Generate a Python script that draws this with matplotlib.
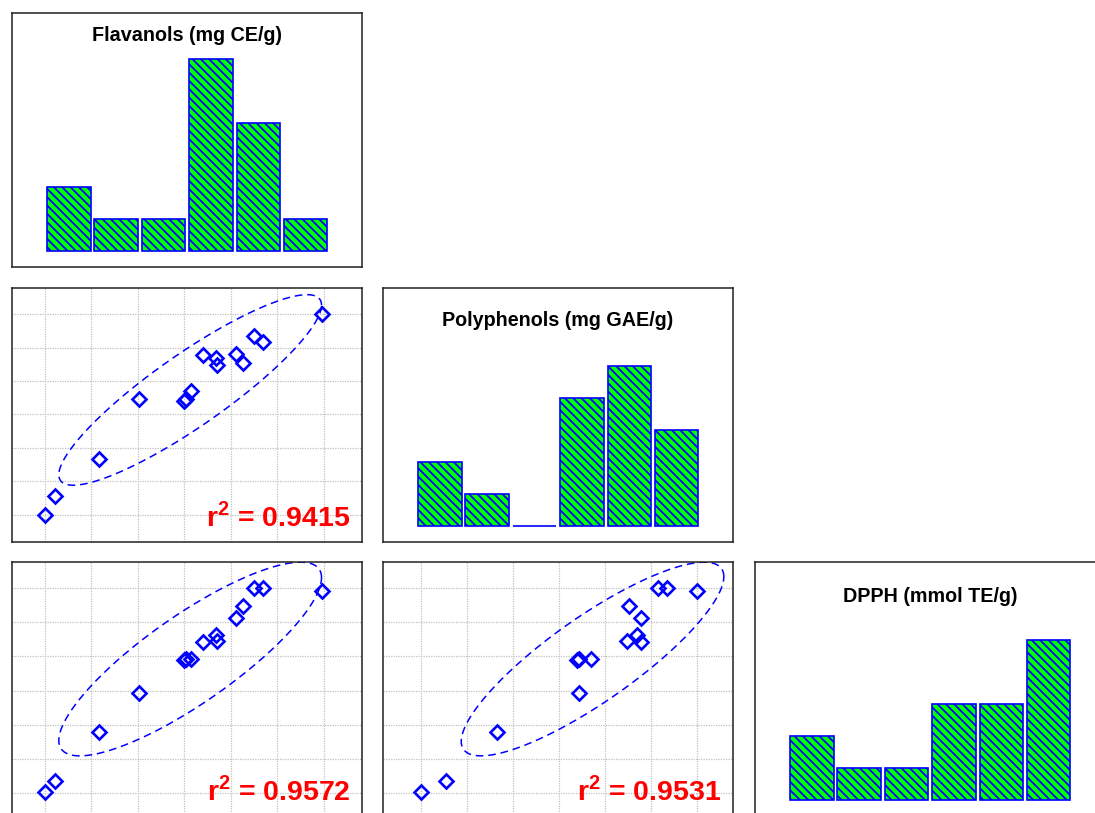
import numpy as np
import matplotlib
matplotlib.use('Agg')
import matplotlib.pyplot as plt

# ── data (arbitrary chart units) ──
titles = ['Flavanols (mg CE/g)', 'Polyphenols (mg GAE/g)', 'DPPH (mmol TE/g)']
flavanols = [0.00, 0.22, 1.16, 2.03, 3.00, 3.03, 3.15, 3.39, 3.68, 3.70,
             4.11, 4.25, 4.49, 4.69, 5.95]
polyphenols = [0.00, 0.56, 1.66, 3.45, 3.40, 3.45, 3.70, 4.78, 4.70, 4.48,
               4.80, 4.53, 5.36, 5.16, 6.01]
dpph = [0.02, 0.34, 1.79, 2.93, 3.90, 3.92, 3.93, 4.43, 4.63, 4.44,
        5.12, 5.49, 6.00, 6.00, 5.92]
r2_labels = {(1, 0): '0.9415', (2, 0): '0.9572', (2, 1): '0.9531'}
# tilt of the dashed ellipses as drawn (correlation term)
ellipse_rho = {(1, 0): 0.89, (2, 0): 0.84, (2, 1): 0.85}

variables = [np.array(flavanols), np.array(polyphenols), np.array(dpph)]
limits = [(-0.71, 6.82), (-0.82, 6.79), (-0.68, 6.77)]

# ── style ──
BLUE = '#0000FF'
GREEN = '#00FF00'
RED = '#FF0000'
plt.rcParams['font.family'] = ['Liberation Sans', 'DejaVu Sans']
plt.rcParams['mathtext.fontset'] = 'custom'
plt.rcParams['mathtext.rm'] = 'Liberation Sans:bold'
plt.rcParams['mathtext.bf'] = 'Liberation Sans:bold'
plt.rcParams['hatch.color'] = BLUE
plt.rcParams['hatch.linewidth'] = 1.3

W, H = 1095, 813
fig = plt.figure(figsize=(W / 100, H / 100), dpi=100)
fig.patch.set_facecolor('white')

col_left = [12, 383, 755]
row_top = [13, 288, 562]
pw, ph = 350, 254
title_y = [0.913, 0.874, 0.866]


def make_ax(r, c):
    ax = fig.add_axes([col_left[c] / W, 1 - (row_top[r] + ph) / H, pw / W, ph / H])
    ax.set_xticks([])
    ax.set_yticks([])
    for s in ax.spines.values():
        s.set_color('#202020')
        s.set_linewidth(1.1)
    return ax


def ellipse_xy(x, y, rho, scale=0.475):
    # ellipse centred on the means, half extents proportional to the ranges
    t = np.linspace(0, 2 * np.pi, 361)
    a = scale * np.ptp(x)
    b = scale * np.ptp(y)
    ex = x.mean() + a * np.cos(t)
    ey = y.mean() + b * (rho * np.cos(t) + np.sqrt(1 - rho ** 2) * np.sin(t))
    return ex, ey


for r in range(3):
    for c in range(r + 1):
        ax = make_ax(r, c)
        if r == c:
            # histogram on the diagonal
            v = variables[r]
            counts, edges = np.histogram(v, bins=6)
            bw = edges[1] - edges[0]
            gap = 0.04 * bw
            ax.bar(edges[:-1] + gap, counts, width=bw - 2 * gap, align='edge',
                   color=GREEN, edgecolor=BLUE, linewidth=1.2, hatch='\\' * 4)
            R = edges[-1] - edges[0]
            ax.set_xlim(edges[0] - 0.117 * R, edges[-1] + 0.115 * R)
            ax.set_ylim(-0.5, 7.44)
            ax.text(0.5, title_y[r], titles[r], transform=ax.transAxes,
                    ha='center', va='center', fontsize=14.2, fontweight='bold')
        else:
            x = variables[c]
            y = variables[r]
            ax.set_xlim(*limits[c])
            ax.set_ylim(*limits[r])
            for g in range(7):
                ax.axvline(g, color='#c0c0c0', lw=0.9, ls=(0, (1, 1)), zorder=0)
                ax.axhline(g, color='#c0c0c0', lw=0.9, ls=(0, (1, 1)), zorder=0)
            ex, ey = ellipse_xy(x, y, ellipse_rho[(r, c)])
            ax.plot(ex, ey, color=BLUE, lw=1.1, ls=(0, (5, 3.2)), zorder=2)
            ax.plot(x, y, ls='none', marker='D', markersize=6.8,
                    markerfacecolor='none', markeredgecolor=BLUE,
                    markeredgewidth=1.9, zorder=3)
            ax.annotate(r'r$^{2}$ = ' + r2_labels[(r, c)], xy=(1, 0),
                        xycoords='axes fraction', xytext=(-8.5, 11),
                        textcoords='offset points', ha='right', va='baseline',
                        fontsize=20.5, fontweight='bold', color=RED)

fig.savefig('out.png', dpi=100, facecolor='white')
